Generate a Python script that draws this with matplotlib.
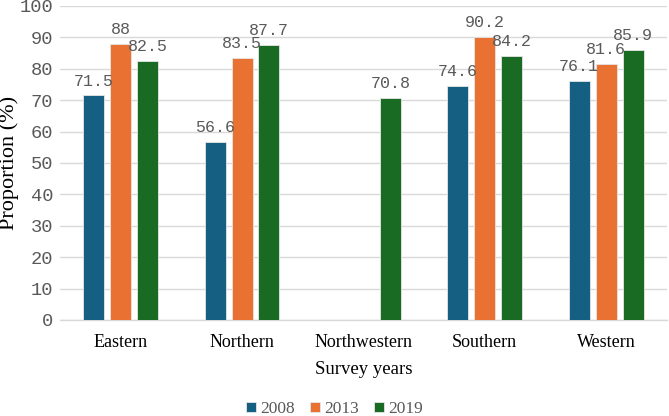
import numpy as np
import matplotlib.pyplot as plt

regions = ['Eastern', 'Northern', 'Northwestern', 'Southern', 'Western']
years = ['2008', '2013', '2019']
v2008 = [71.5, 56.6, np.nan, 74.6, 76.1]
v2013 = [88, 83.5, np.nan, 90.2, 81.6]
v2019 = [82.5, 87.7, 70.8, 84.2, 85.9]
colors = ['#156082', '#E97132', '#196B24']

fig = plt.figure(figsize=(6.69, 4.16), dpi=100)
ax = fig.add_axes([0.0897, 0.2308, 0.907, 0.7548])

x = np.arange(len(regions))
width = 0.173
step = 0.222
grey = '#595959'

for k, (vals, c, lab) in enumerate(zip([v2008, v2013, v2019], colors, years)):
    pos = x + (k - 1) * step
    ax.bar(pos, vals, width, color=c, edgecolor='#e6e6e6', linewidth=0.6,
           label=lab, zorder=3)
    for xi, v in zip(pos, vals):
        if not np.isnan(v):
            ax.annotate('{:g}'.format(v), (xi, v), xytext=(0, 5),
                        textcoords='offset points', ha='center', va='bottom',
                        family='Liberation Mono', fontsize=12, color=grey, zorder=4)

ax.set_xlim(-0.5, len(regions) - 0.5)
ax.set_ylim(0, 100)
ax.set_yticks(range(0, 101, 10))
ax.yaxis.grid(True, color='#d9d9d9', linewidth=1, zorder=0)
for s in ['top', 'right', 'left']:
    ax.spines[s].set_visible(False)
ax.spines['bottom'].set_color('#d9d9d9')
ax.spines['bottom'].set_linewidth(1)
ax.tick_params(axis='both', length=0)
ax.tick_params(axis='y', pad=5)
ax.tick_params(axis='x', pad=10)

ax.set_xticks(x)
ax.set_xticklabels(regions, family='Liberation Serif', fontsize=13, color='black')
for t in ax.get_yticklabels():
    t.set_family('Liberation Mono')
    t.set_fontsize(13.5)
    t.set_color(grey)

# y label: right edge of the text sits ~19 px from the figure edge
ax.set_ylabel('Proportion (%)', family='Liberation Serif', fontsize=16)
ax.yaxis.set_label_coords(-0.068, 0.5)
ax.set_xlabel('Survey years', family='Liberation Serif', fontsize=13.5, labelpad=7)

leg = fig.legend(loc='center', bbox_to_anchor=(0.5, 0.016), ncol=3, frameon=False,
                 prop={'family': 'Liberation Serif', 'size': 12.5},
                 handlelength=0.55, handleheight=0.55, handletextpad=0.25,
                 columnspacing=0.9)
for t in leg.get_texts():
    t.set_color(grey)

fig.savefig('out.png', dpi=100)
